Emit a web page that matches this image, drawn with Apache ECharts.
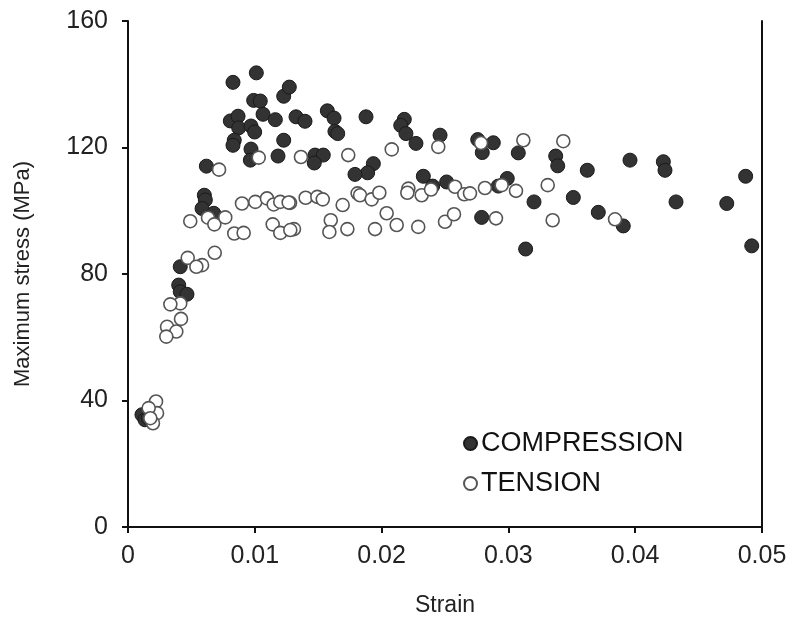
<!DOCTYPE html>
<html>
<head>
<meta charset="utf-8">
<script src="https://cdn.jsdelivr.net/npm/echarts@6/dist/echarts.min.js"></script>
<style>html,body{margin:0;padding:0;background:#fff;}#c{width:800px;height:624px;}</style>
</head>
<body>
<div id="c"></div>
<script>
const seriesNames = ['COMPRESSION', 'TENSION'];
const xTicks = ['0', '0.01', '0.02', '0.03', '0.04', '0.05'];
const yTicks = ['0', '40', '80', '120', '160'];

const compression = [
  [0.01012,143.6],[0.00828,140.6],[0.00991,134.9],[0.01043,134.7],[0.01228,136.2],[0.01272,139.1],
  [0.01065,130.5],[0.01162,128.8],[0.00807,128.4],[0.00868,129.9],[0.00873,126.2],[0.0097,126.8],
  [0.00999,124.9],[0.00838,122.3],[0.00828,120.7],[0.01228,122.3],[0.0097,119.5],[0.00965,116.0],
  [0.01183,117.3],[0.00618,114.1],[0.01325,129.7],[0.01396,128.3],[0.01572,131.6],[0.01625,129.3],
  [0.01632,125.1],[0.01654,124.4],[0.01877,129.7],[0.02179,128.9],[0.02151,127.0],[0.02192,124.4],
  [0.02271,121.3],[0.02461,123.9],[0.01475,117.6],[0.0154,117.6],[0.01469,115.1],[0.01935,114.9],
  [0.0189,112.0],[0.0179,111.5],[0.02329,110.9],[0.02513,109.1],[0.02403,107.8],[0.02758,122.5],
  [0.02881,121.5],[0.02794,118.4],[0.03078,118.3],[0.03373,117.3],[0.03389,114.2],[0.03622,112.8],
  [0.0292,107.8],[0.02991,110.2],[0.03202,102.8],[0.03512,104.2],[0.03709,99.5],[0.02789,97.9],
  [0.03136,87.9],[0.03959,116.0],[0.04222,115.5],[0.04235,112.8],[0.04871,110.9],[0.04322,102.8],
  [0.04722,102.3],[0.03906,95.2],[0.04919,88.9],[0.00602,104.9],[0.0061,103.4],[0.00584,100.7],
  [0.00676,99.2],[0.00412,82.3],[0.0040,76.5],[0.00412,74.4],[0.00465,73.6],[0.0011,35.5],
  [0.00134,33.9],[0.0016,34.5]
];

const tension = [
  [0.01031,116.8],[0.00718,113.0],[0.01364,117.0],[0.01737,117.6],[0.0208,119.4],[0.02447,120.2],
  [0.02784,121.4],[0.03118,122.3],[0.03433,122.0],[0.01278,102.5],[0.01401,104.1],[0.01493,104.4],
  [0.01536,103.6],[0.01693,101.8],[0.01811,105.5],[0.0183,104.9],[0.01922,103.6],[0.01982,105.7],
  [0.02211,107.0],[0.02203,105.7],[0.02316,104.9],[0.0239,106.7],[0.0204,99.2],[0.02119,95.5],
  [0.02289,94.9],[0.01309,94.2],[0.01599,97.0],[0.01588,93.3],[0.0173,94.2],[0.01948,94.2],
  [0.025,96.5],[0.02579,107.6],[0.02652,105.2],[0.02697,105.5],[0.02815,107.2],[0.02947,108.1],
  [0.0306,106.3],[0.0331,108.1],[0.02571,98.9],[0.02902,97.6],[0.03349,97.0],[0.03841,97.3],
  [0.00899,102.3],[0.01004,102.8],[0.01096,103.9],[0.01149,102.0],[0.01201,102.8],[0.01267,102.6],
  [0.00491,96.7],[0.00631,97.8],[0.00681,95.7],[0.00767,97.9],[0.00838,92.8],[0.00912,93.0],
  [0.01141,95.7],[0.01201,93.0],[0.0128,93.9],[0.00684,86.7],[0.00471,85.1],[0.00584,82.8],
  [0.00539,82.3],[0.00412,70.7],[0.00334,70.4],[0.00418,65.8],[0.00308,63.3],[0.00381,61.8],
  [0.00302,60.2],[0.00221,39.7],[0.00229,36.0],[0.00197,32.8],[0.00163,37.6],[0.00176,34.4]
];

const FONT = 'Liberation Sans, Arial, sans-serif';
const chart = echarts.init(document.getElementById('c'), null, {renderer: 'canvas'});
chart.setOption({
  animation: false,
  backgroundColor: '#fff',
  grid: {left: 128, right: 38, top: 21, bottom: 97, containLabel: false},
  legend: {
    orient: 'vertical', left: 458, top: 425, itemGap: 13,
    itemWidth: 13, itemHeight: 13,
    data: [
      {name: seriesNames[0], icon: 'circle'},
      {name: seriesNames[1], icon: 'circle'}
    ],
    textStyle: {fontFamily: FONT, fontSize: 27, color: '#111', padding: [0,0,0,-1]}
  },
  xAxis: {
    type: 'value', min: 0, max: 0.05, interval: 0.01,
    name: 'Strain', nameLocation: 'middle', nameGap: 67,
    nameTextStyle: {fontFamily: FONT, fontSize: 23, color: '#222', verticalAlign: 'top'},
    axisLine: {show: true, onZero: false, lineStyle: {color: '#111', width: 2}},
    axisTick: {show: true, inside: false, length: 6, lineStyle: {color: '#111', width: 2}},
    axisLabel: {fontFamily: FONT, fontSize: 25, color: '#222', margin: 17,
      formatter: function (v) { const i = Math.round(v / 0.01); return xTicks[i] !== undefined ? xTicks[i] : ''; }},
    splitLine: {show: false}
  },
  yAxis: [{
    type: 'value', min: 0, max: 160, interval: 40,
    name: 'Maximum stress (MPa)', nameLocation: 'middle', nameGap: 94,
    nameTextStyle: {fontFamily: FONT, fontSize: 22, color: '#222'},
    axisLine: {show: true, onZero: false, lineStyle: {color: '#111', width: 2}},
    axisTick: {show: true, inside: false, length: 6, lineStyle: {color: '#111', width: 2}},
    axisLabel: {fontFamily: FONT, fontSize: 25, color: '#222', margin: 20,
      formatter: function (v) { const i = Math.round(v / 40); return yTicks[i] !== undefined ? yTicks[i] : ''; }},
    splitLine: {show: false}
  }, {
    type: 'value', min: 0, max: 160, interval: 40, position: 'right',
    axisLine: {show: true, onZero: false, lineStyle: {color: '#111', width: 2}},
    axisTick: {show: false}, axisLabel: {show: false}, splitLine: {show: false}
  }],
  series: [
    {
      name: seriesNames[0], type: 'scatter', data: compression, symbol: 'circle', symbolSize: 14,
      itemStyle: {color: '#333333', borderColor: '#1a1a1a', borderWidth: 1, opacity: 1}
    },
    {
      name: seriesNames[1], type: 'scatter', data: tension, symbol: 'circle', symbolSize: 13,
      itemStyle: {color: '#ffffff', borderColor: '#555555', borderWidth: 1.6, opacity: 1}
    }
  ]
});
</script>
</body>
</html>
